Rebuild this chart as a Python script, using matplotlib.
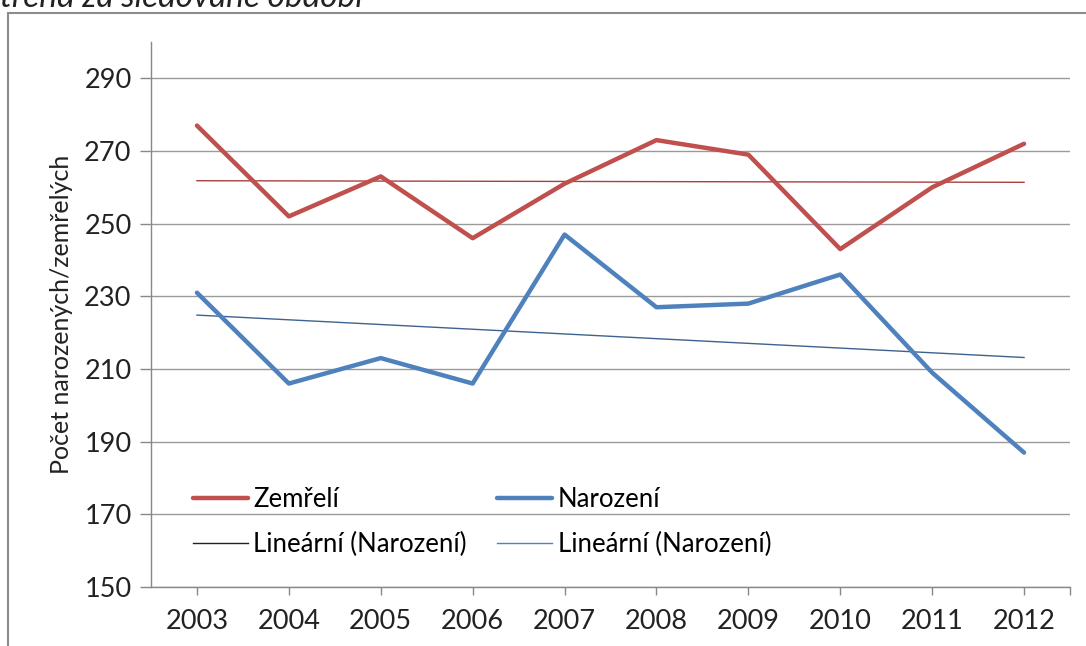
import numpy as np
import matplotlib
matplotlib.use("Agg")
import matplotlib.pyplot as plt
from matplotlib.patches import Rectangle

# Data
years = [2003, 2004, 2005, 2006, 2007, 2008, 2009, 2010, 2011, 2012]
zemreli = [277, 252, 263, 246, 261, 273, 269, 243, 260, 272]
narozeni = [231, 206, 213, 206, 247, 227, 228, 236, 209, 187]
y_ticks = [150, 170, 190, 210, 230, 250, 270, 290]

plt.rcParams["font.family"] = ["Lato", "DejaVu Sans"]

fig = plt.figure(figsize=(10.86, 6.46), dpi=100)
ax = fig.add_axes([151 / 1086, 1 - 587 / 646, (1070 - 151) / 1086, (587 - 42) / 646])

x = np.arange(len(years))

# Linear trends
red_fit = np.polyval(np.polyfit(x, zemreli, 1), x)
blue_fit = np.polyval(np.polyfit(x, narozeni, 1), x)

l_red, = ax.plot(x, zemreli, color="#C0504D", lw=3.2, solid_capstyle="round", zorder=4)
l_blue, = ax.plot(x, narozeni, color="#4F81BD", lw=3.2, solid_capstyle="round", zorder=4)
ax.plot(x, red_fit, color="#A8403E", lw=1.0, zorder=3)
ax.plot(x, blue_fit, color="#3E628F", lw=1.0, zorder=3)

# legend handles (as in the source: both trends labelled "Narození")
h_black, = ax.plot([], [], color="#222222", lw=1.0)
h_lblue, = ax.plot([], [], color="#4F81BD", lw=1.0)

ax.set_xlim(-0.5, len(years) - 0.5)
ax.set_ylim(150, 300)
ax.set_yticks(y_ticks)
ax.set_xticks(list(x) + [len(years) - 0.5])
ax.set_xticklabels([str(y) for y in years] + [""])
ax.tick_params(axis="both", labelsize=19.5, colors="#888888", labelcolor="#222222")
ax.tick_params(axis="y", length=8, width=1, pad=6)
ax.tick_params(axis="x", length=6, width=1, pad=10)

ax.grid(axis="y", color="#9A9A9A", lw=1.0)
ax.set_axisbelow(True)
for s in ["top", "right"]:
    ax.spines[s].set_visible(False)
for s in ["left", "bottom"]:
    ax.spines[s].set_color("#888888")
    ax.spines[s].set_linewidth(1.0)

ax.set_ylabel("Počet narozených/zemřelých", fontsize=18, color="#222222", labelpad=8)

leg = ax.legend([l_red, h_black, l_blue, h_lblue],
                ["Zemřelí", "Lineární (Narození)", "Narození", "Lineární (Narození)"],
                ncol=2, loc="upper left", bbox_to_anchor=(0.0457, 0.184),
                frameon=False, fontsize=18.5, handlelength=2.14, handletextpad=0.2,
                columnspacing=1.2, labelspacing=0.8, borderpad=0, borderaxespad=0)

# chart area border and cut-off caption above it
fig.patches.append(Rectangle((8 / 1086, -0.1), 1.2, 1 - 13 / 646 + 0.1,
                             transform=fig.transFigure, fill=False,
                             edgecolor="#8C8C8C", lw=1.5))
fig.text(0.0, 1 - 7 / 646, "trend za sledované období", fontsize=24,
         style="italic", va="baseline", ha="left", color="#222222")

fig.savefig("out.png", dpi=100)
